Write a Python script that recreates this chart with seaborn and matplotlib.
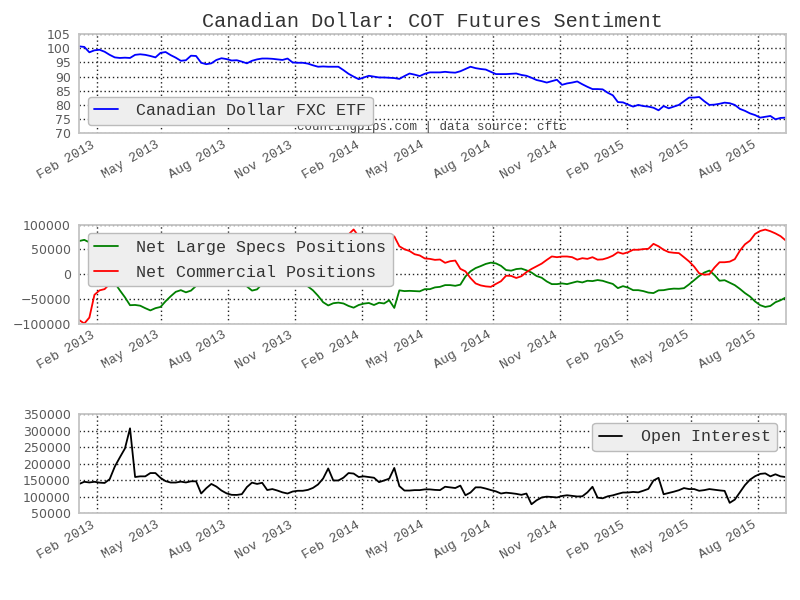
import pandas as pd
import matplotlib
matplotlib.use("Agg")
import matplotlib.pyplot as plt
import matplotlib.dates as mdates
import seaborn as sns

sns.set_style("white")
plt.rcParams['font.family'] = ['Liberation Mono', 'DejaVu Sans']

# weekly COT report dates (Tuesdays)
dates = pd.date_range("2013-01-08", periods=140, freq="7D")

fxc = [
    100.7, 100.5, 98.6, 99.3, 99.5, 98.8, 97.7, 96.8, 96.6, 96.7,
    96.6, 97.7, 97.9, 97.7, 97.3, 96.8, 98.4, 98.7, 97.6, 96.7,
    95.6, 95.8, 97.4, 97.3, 94.9, 94.4, 94.7, 95.9, 96.5, 96.2,
    95.7, 95.8, 95.3, 94.7, 95.6, 96.1, 96.4, 96.4, 96.3, 96.1,
    95.9, 96.4, 95.0, 94.9, 94.9, 94.6, 94.0, 93.5, 93.6, 93.5,
    93.5, 93.5, 92.3, 91.0, 90.0, 89.1, 89.7, 90.3, 90.0, 89.7,
    89.7, 89.6, 89.5, 89.2, 90.2, 91.1, 90.7, 90.2, 91.0, 91.5,
    91.5, 91.5, 91.7, 91.5, 91.4, 91.9, 92.7, 93.5, 93.0, 92.7,
    92.5, 91.7, 90.9, 90.9, 90.9, 91.0, 91.1, 90.6, 90.3, 89.6,
    88.8, 88.4, 87.9, 88.4, 88.9, 87.1, 87.6, 87.9, 88.3, 87.3,
    86.4, 85.6, 85.6, 85.5, 84.3, 83.4, 81.0, 80.9, 80.1, 79.4,
    80.0, 79.6, 79.4, 79.0, 78.1, 79.6, 78.8, 79.4, 80.0, 81.3,
    82.6, 82.6, 82.8, 81.3, 80.0, 80.1, 80.4, 80.8, 80.6, 80.0,
    78.6, 77.9, 77.0, 76.4, 75.5, 75.8, 76.1, 74.9, 75.4, 75.5,
]

large_specs = [
    66700, 69000, 64000, 18000, 8000, 5000, -5000, -18000, -33000, -47000,
    -63000, -62500, -64000, -69000, -73500, -69000, -66500, -55000, -45000, -36000,
    -32600, -37000, -33500, -24000, -12000, -18000, -23000, -20000, -16000, -12000,
    -8000, -10000, -15000, -25000, -33500, -31000, -20000, -10000, -5000, -3000,
    -5000, -10000, -15000, -17000, -18000, -25000, -33000, -44000, -57000, -63500,
    -59000, -57800, -59500, -64500, -68000, -62600, -59800, -58500, -62600, -58000,
    -59500, -53000, -68500, -33000, -34500, -34000, -34500, -35000, -30600, -30600,
    -27000, -25900, -22400, -22400, -23800, -21500, -5000, 5500, 12000, 16000,
    20400, 23000, 21500, 16500, 8000, 6800, 10000, 11000, 7500, 3000,
    -4000, -7500, -15000, -20400, -20400, -19000, -20400, -17700, -15000, -17000,
    -13600, -14300, -12200, -13700, -17000, -20000, -28500, -24500, -27500, -32600,
    -32600, -34500, -37500, -38500, -33000, -32600, -30600, -29500, -29800, -28600,
    -21000, -12500, -4000, 3000, 7000, -2000, -13600, -12500, -17500, -22500,
    -30000, -38500, -45500, -55500, -63000, -66500, -64500, -57000, -53000, -47600,
]

commercial = [
    -93000, -100000, -88000, -42000, -33000, -30500, -20000, 0, 10000, 22000,
    38000, 38000, 40000, 45000, 50000, 46000, 44000, 33000, 24000, 16000,
    14000, 18000, 15000, 6000, -4000, 2000, 8000, 6000, 3000, 0,
    -3000, 0, 5000, 16000, 25000, 24000, 15000, 6000, 2000, 1000,
    4000, 10000, 16000, 20000, 22000, 30000, 38000, 48000, 60000, 68000,
    66000, 68000, 72000, 80000, 90000, 76000, 72000, 70000, 74000, 70000,
    72000, 68000, 76000, 56000, 50000, 46500, 40000, 37500, 31500, 30600,
    28600, 29300, 22600, 25900, 27200, 10500, 5400, -8200, -19000, -23000,
    -25000, -25900, -20000, -14500, -3400, -3800, -8000, -4500, 3800, 10200,
    15500, 21000, 28500, 35500, 34000, 35400, 35400, 34000, 29000, 32000,
    30600, 34000, 29000, 29600, 32600, 37000, 44000, 41000, 44000, 49000,
    49000, 50300, 51000, 61000, 56000, 49000, 44200, 42900, 42200, 34000,
    25500, 15000, 1400, -1400, -500, 13000, 23800, 23800, 25000, 30000,
    47000, 60000, 67500, 81000, 87000, 89800, 86500, 82000, 76500, 68000,
]

open_interest = [
    139500, 146000, 144000, 146000, 143500, 142500, 154000, 192000, 220000, 247000,
    308000, 160500, 162500, 162500, 172500, 172500, 158000, 148000, 143800, 143800,
    146500, 144000, 147500, 147500, 110500, 126500, 139500, 131500, 119500, 111000,
    106500, 106200, 108500, 130000, 143500, 139500, 143000, 121000, 124000, 119500,
    114000, 110500, 116500, 118800, 118800, 121500, 127500, 138000, 156000, 186500,
    150000, 150000, 158500, 172500, 171000, 160500, 162500, 160300, 158300, 145000,
    150000, 155500, 188000, 133000, 119500, 119500, 120800, 120800, 123000, 123000,
    121500, 120800, 131000, 129200, 127100, 134400, 105200, 113500, 129200, 129200,
    125500, 121000, 117000, 110500, 113000, 111500, 109500, 106500, 110400, 78000,
    90000, 98500, 101000, 100000, 98500, 103000, 105200, 103500, 101500, 102000,
    114000, 131000, 98000, 96000, 102000, 105000, 109500, 113500, 113500, 115300,
    114000, 119000, 124500, 150000, 158000, 108300, 112000, 116000, 120500, 127000,
    124000, 124000, 118800, 120800, 124000, 122000, 120000, 118500, 82300, 92000,
    114000, 136000, 152500, 163000, 170000, 171500, 162500, 168800, 162500, 160400,
]

fig = plt.figure(figsize=(8, 6), dpi=100)
ax1 = fig.add_axes([0.099, 0.778, 0.883, 0.165])
ax2 = fig.add_axes([0.099, 0.4608, 0.883, 0.165])
ax3 = fig.add_axes([0.099, 0.1442, 0.883, 0.165])

sns.lineplot(x=dates, y=fxc, ax=ax1, color="#0000ff", lw=1.3, errorbar=None,
             label="Canadian Dollar FXC ETF")
sns.lineplot(x=dates, y=large_specs, ax=ax2, color="#008000", lw=1.3, errorbar=None,
             label="Net Large Specs Positions")
sns.lineplot(x=dates, y=commercial, ax=ax2, color="#ff0000", lw=1.3, errorbar=None,
             label="Net Commercial Positions")
sns.lineplot(x=dates, y=open_interest, ax=ax3, color="#000000", lw=1.3, errorbar=None,
             label="Open Interest")

yticks = {
    ax1: list(range(70, 106, 5)),
    ax2: list(range(-100000, 100001, 50000)),
    ax3: list(range(50000, 350001, 50000)),
}
legend_loc = {ax1: "lower left", ax2: "upper left", ax3: "upper right"}

for ax in (ax1, ax2, ax3):
    ax.set_xlim(dates[0], dates[-1])
    ax.set_ylim(yticks[ax][0], yticks[ax][-1])
    ax.set_yticks(yticks[ax])
    ax.set_yticklabels([str(t).replace("-", "\u2212") for t in yticks[ax]],
                       fontfamily="DejaVu Sans", fontsize=9, color="#5a5a5a")
    ax.xaxis.set_major_locator(mdates.MonthLocator(bymonth=[2, 5, 8, 11]))
    ax.xaxis.set_major_formatter(mdates.DateFormatter("%b %Y"))
    ax.tick_params(axis="both", length=0, pad=6)
    ax.tick_params(axis="x", labelsize=9.5, labelcolor="#555555", pad=4)
    for lbl in ax.get_xticklabels():
        lbl.set_rotation(30)
        lbl.set_ha("right")
    ax.grid(True, color="#222222", linestyle=(0, (1, 2)), linewidth=1)
    for sp in ax.spines.values():
        sp.set_color("#c4c4c4")
        sp.set_linewidth(1.3)
    ax.set_xlabel("")
    ax.set_ylabel("")
    ax.legend(loc=legend_loc[ax], prop={"family": "Liberation Mono", "size": 12},
              facecolor="#eeeeee", edgecolor="#bbbbbb", framealpha=1, fancybox=True,
              handlelength=1.4, handletextpad=1.1, labelspacing=0.6,
              labelcolor="#333333")

ax1.set_title("Canadian Dollar: COT Futures Sentiment", fontsize=14.5, color="#333333", pad=5)
ax1.text(0.5, 0.0, "countingpips.com | data source: cftc", transform=ax1.transAxes,
         ha="center", va="bottom", fontsize=9, color="#444444")

fig.savefig("out.png", dpi=100)
